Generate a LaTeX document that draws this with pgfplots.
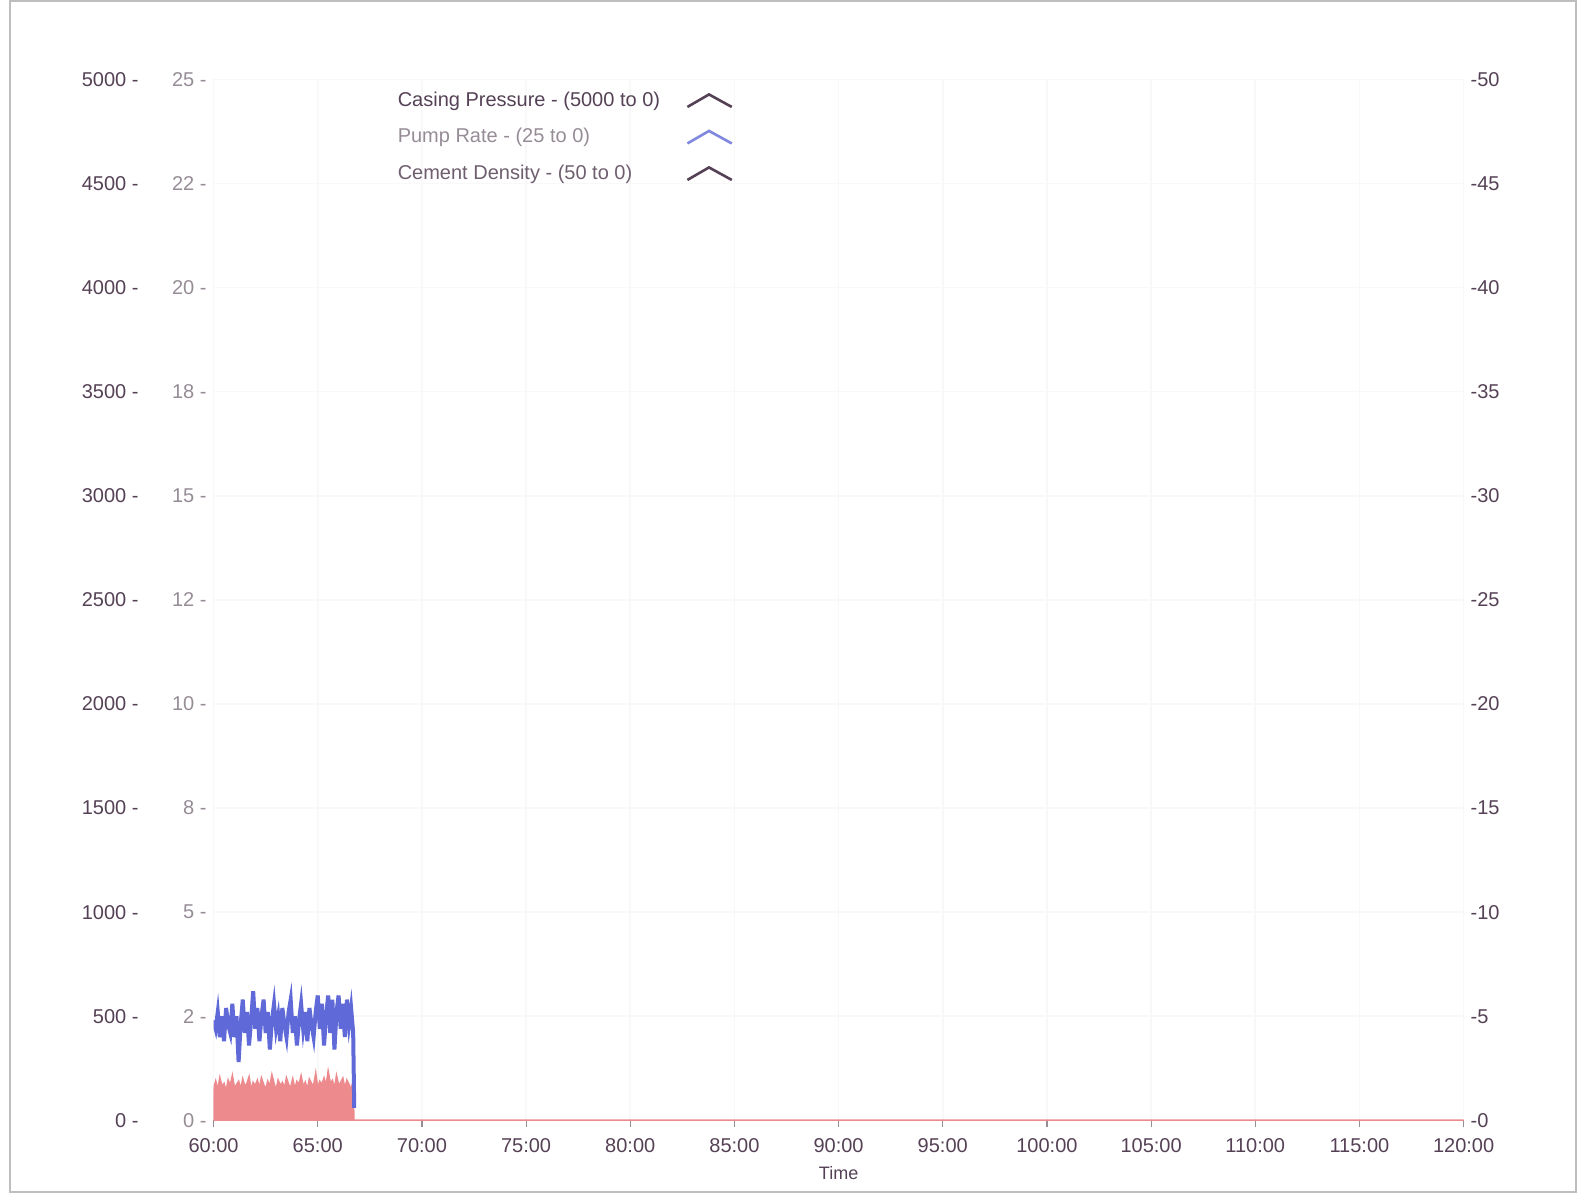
\documentclass[border=0pt]{standalone}
\usepackage{fontspec}
\setmainfont{Liberation Sans}
\usepackage{pgfplots}
\pgfplotsset{compat=1.18}
\definecolor{txt}{RGB}{85,65,85}
\definecolor{txtlight}{RGB}{150,140,150}
\definecolor{pumpblue}{RGB}{95,105,215}
\definecolor{densred}{RGB}{236,138,142}
\definecolor{gridc}{RGB}{248,248,249}
\definecolor{framec}{RGB}{190,190,190}

\pgfplotsset{
  base/.style={
    scale only axis, width=625pt, height=520.5pt,
    at={(106.8pt,38.3pt)}, anchor=south west,
    xmin=60, xmax=120,
    tick label style={font=\fontsize{10}{11}\selectfont},
    ytick style={draw=none},
  },
}

\begin{document}
\begin{tikzpicture}
\path (0,0) rectangle (790pt,598.5pt);
\draw[framec, line width=0.8pt] (5pt,2.5pt) rectangle (788pt,598pt);

% casing pressure axis (left, 5000 to 0)
\begin{axis}[base,
  ymin=0, ymax=5000,
  axis x line*=bottom, axis y line*=left,
  axis line style={draw=none},
  grid=major, major grid style={gridc, line width=0.8pt},
  xtick={60,65,...,120},
  xticklabels={60:00,65:00,70:00,75:00,80:00,85:00,90:00,95:00,100:00,105:00,110:00,115:00,120:00},
  x tick style={txtlight, line width=0.6pt},
  xtick align=outside, major tick length=3.5pt,
  x tick label style={txt, yshift=-2pt},
  xlabel={Time}, xlabel style={txt, font=\fontsize{9}{10}\selectfont, yshift=0pt},
  ytick={0,500,...,5000},
  yticklabels={0 -,500 -,1000 -,1500 -,2000 -,2500 -,3000 -,3500 -,4000 -,4500 -,5000 -},
  y tick label style={txt, xshift=-34pt},
  legend plot pos=right,
  legend cell align=left,
  legend style={at={(0.139,0.996)}, anchor=north west, draw=none, fill=none,
    font=\fontsize{10}{11}\selectfont, row sep=5.5pt, column sep=11pt},
  legend image code/.code={\draw[#1, line width=1.3pt] (0cm,-0.11cm) -- (0.38cm,0.11cm) -- (0.78cm,-0.11cm);},
]
\addlegendimage{txt}
\addlegendentry{\textcolor{txt}{Casing Pressure - (5000 to 0)}}
\addlegendimage{pumpblue!80}
\addlegendentry{\textcolor{txtlight}{Pump Rate - (25 to 0)}}
\addlegendimage{txt}
\addlegendentry{\textcolor{txt!85}{Cement Density - (50 to 0)}}

\addplot[draw=densred, fill=densred, line width=1pt, forget plot] coordinates {
(60.0,150) (60.1,185) (60.2,140) (60.3,200) (60.4,160) (60.5,175) (60.6,135) (60.7,190)
(60.8,165) (60.9,210) (61.0,150) (61.1,170) (61.2,185) (61.3,145) (61.4,195) (61.5,160)
(61.6,175) (61.7,205) (61.8,140) (61.9,180) (62.0,165) (62.1,190) (62.2,150) (62.3,200)
(62.4,170) (62.5,145) (62.6,185) (62.7,160) (62.8,215) (62.9,175) (63.0,140) (63.1,190)
(63.2,165) (63.3,180) (63.4,150) (63.5,200) (63.6,170) (63.7,155) (63.8,195) (63.9,145)
(64.0,185) (64.1,170) (64.2,210) (64.3,160) (64.4,180) (64.5,145) (64.6,195) (64.7,175)
(64.8,160) (64.9,220) (65.0,150) (65.1,185) (65.2,170) (65.3,200) (65.4,160) (65.5,230)
(65.6,175) (65.7,190) (65.8,145) (65.9,210) (66.0,165) (66.1,180) (66.2,200) (66.3,150)
(66.4,190) (66.5,170) (66.6,145) (66.7,185) (66.72,0) (120,0)
} \closedcycle;
\end{axis}

% pump rate axis (inner left, 25 to 0)
\begin{axis}[base,
  ymin=0, ymax=25,
  axis x line=none, axis y line*=left,
  axis line style={draw=none},
  ytick={0,2.5,...,25},
  yticklabels={0 -,2 -,5 -,8 -,10 -,12 -,15 -,18 -,20 -,22 -,25 -},
  y tick label style={txtlight},
]
\addplot[pumpblue, line width=2pt] coordinates {
(60.0,2.4) (60.1,2.2) (60.2,2.6) (60.3,2.0) (60.4,2.5) (60.5,1.9) (60.6,2.7) (60.7,2.3)
(60.8,2.1) (60.9,2.8) (61.0,2.0) (61.1,2.5) (61.2,1.4) (61.3,2.3) (61.4,2.9) (61.5,2.1)
(61.6,2.6) (61.7,1.8) (61.8,2.4) (61.9,3.1) (62.0,2.2) (62.1,2.7) (62.2,1.9) (62.3,2.5)
(62.4,2.9) (62.5,2.1) (62.6,2.6) (62.7,1.7) (62.8,2.4) (62.9,2.8) (63.0,2.2) (63.1,2.5)
(63.2,1.9) (63.3,2.7) (63.4,2.3) (63.5,2.0) (63.6,2.6) (63.7,2.9) (63.8,2.1) (63.9,2.5)
(64.0,1.8) (64.1,2.4) (64.2,2.8) (64.3,2.2) (64.4,2.6) (64.5,1.9) (64.6,2.7) (64.7,2.3)
(64.8,2.0) (64.9,2.6) (65.0,3.0) (65.1,2.2) (65.2,2.8) (65.3,1.8) (65.4,2.5) (65.5,3.0)
(65.6,2.1) (65.7,2.9) (65.8,1.7) (65.9,2.6) (66.0,3.0) (66.1,2.2) (66.2,2.8) (66.3,2.0)
(66.4,2.9) (66.5,2.3) (66.6,2.7) (66.7,2.1) (66.75,0.3)
};
\end{axis}

% cement density axis (right, 50 to 0)
\begin{axis}[base,
  ymin=0, ymax=50,
  axis x line=none, axis y line*=right,
  axis line style={draw=none},
  ytick={0,5,...,50},
  yticklabels={-0,-5,-10,-15,-20,-25,-30,-35,-40,-45,-50},
  y tick label style={txt},
]
\addplot[draw=none, forget plot] coordinates {(60,0) (120,0)};
\end{axis}
\end{tikzpicture}
\end{document}
